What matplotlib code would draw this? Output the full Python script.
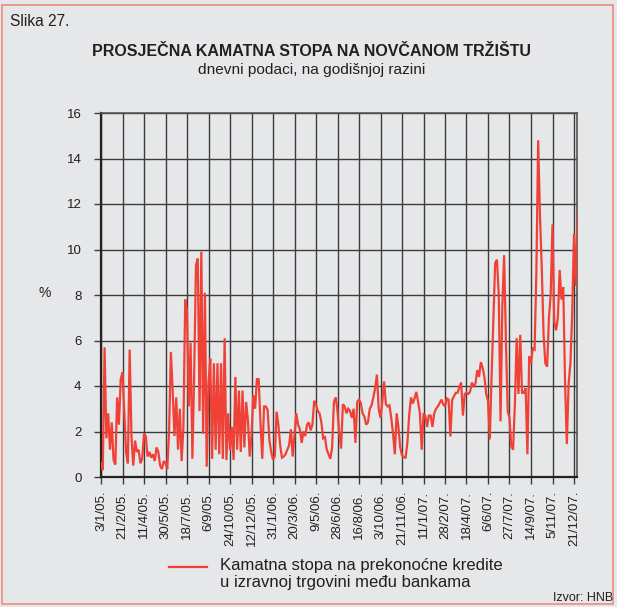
import matplotlib
matplotlib.use("Agg")
import matplotlib.pyplot as plt
from matplotlib.patches import Rectangle
from matplotlib.lines import Line2D

# ---- data (daily overnight rate, sampled; 12 samples per tick interval) ----
tick_labels = ["3/1/05.", "21/2/05.", "11/4/05.", "30/5/05.", "18/7/05.", "6/9/05.",
               "24/10/05.", "12/12/05.", "31/1/06.", "20/3/06.", "9/5/06.", "28/6/06.",
               "16/8/06.", "3/10/06.", "21/11/06.", "11/1/07.", "28/2/07.", "18/4/07.",
               "6/6/07.", "27/7/07.", "14/9/07.", "5/11/07.", "21/12/07."]
samples_per_tick = 12

overnight_rate = [
    0.6, 0.3, 5.7, 1.7, 2.8, 1.2, 2.4, 0.75, 0.55, 3.5, 2.3, 4.3,
    4.6, 2.8, 1.1, 0.6, 5.6, 1.8, 0.5, 1.6, 1.1, 1.2, 0.6, 0.8,
    1.9, 1.8, 0.9, 1.1, 0.85, 1.0, 0.7, 1.3, 1.1, 0.5, 0.35, 0.7,
    0.6, 0.35, 2.0, 5.5, 3.8, 1.8, 3.5, 1.2, 3.0, 0.7, 2.2, 7.8,
    7.3, 3.1, 5.9, 0.8, 4.5, 9.3, 9.6, 2.9, 9.9, 1.9, 8.1, 0.45,
    4.2, 5.2, 0.8, 5.0, 1.2, 5.0, 1.0, 5.0, 0.8, 6.1, 0.75, 2.8,
    1.2, 2.2, 0.75, 4.4, 1.2, 3.8, 1.1, 3.8, 1.3, 3.3, 2.5, 0.9,
    1.8, 3.6, 3.0, 4.3, 4.3, 2.4, 0.8, 3.1, 3.1, 2.95, 1.6, 1.1,
    0.76, 0.9, 2.87, 2.3, 1.4, 0.85, 0.9, 1.0, 1.2, 1.4, 2.1, 0.9,
    1.85, 2.8, 2.3, 2.1, 1.5, 2.0, 1.8, 2.3, 2.4, 2.05, 2.3, 3.35,
    3.2, 2.9, 2.8, 2.4, 1.7, 1.75, 1.2, 1.0, 0.8, 1.3, 3.3, 3.5,
    2.9, 1.9, 1.25, 3.2, 3.1, 2.8, 3.0, 2.9, 2.6, 3.0, 1.5, 3.3,
    3.4, 3.25, 2.8, 2.65, 2.3, 2.4, 3.0, 3.15, 3.5, 3.9, 4.5, 3.0,
    2.6, 3.3, 4.2, 3.2, 3.1, 3.15, 2.6, 1.9, 1.0, 2.8, 2.2, 1.3,
    0.95, 0.88, 0.85, 1.5, 2.7, 3.5, 3.23, 3.45, 3.74, 3.3, 2.8, 1.2,
    2.75, 2.7, 2.2, 2.7, 2.7, 2.2, 2.8, 3.0, 3.1, 3.25, 3.4, 3.2,
    3.1, 3.45, 3.4, 1.78, 3.4, 3.55, 3.7, 3.7, 3.95, 4.15, 2.7, 3.65,
    3.7, 3.65, 3.75, 4.15, 4.0, 4.1, 4.7, 4.4, 5.05, 4.8, 4.4, 3.65,
    3.35, 1.65, 4.45, 6.9, 9.4, 9.55, 8.0, 2.45, 7.5, 9.75, 6.0, 2.9,
    2.6, 1.35, 1.2, 3.2, 6.1, 3.65, 6.25, 3.7, 3.7, 3.9, 1.0, 5.3,
    5.0, 5.65, 5.6, 9.0, 14.8, 11.5, 9.2, 6.3, 5.0, 4.85, 6.95, 8.05,
    11.1, 6.8, 6.45, 7.0, 9.1, 7.8, 8.35, 4.2, 1.45, 4.1, 5.0, 7.2,
    10.7, 8.4, 11.7,
]

y_ticks = [0, 2, 4, 6, 8, 10, 12, 14, 16]

title = "PROSJEČNA KAMATNA STOPA NA NOVČANOM TRŽIŠTU"
subtitle = "dnevni podaci, na godišnjoj razini"
legend_label = "Kamatna stopa na prekonoćne kredite\nu izravnoj trgovini među bankama"

# ---- style ----
BG = "#e6e7e9"
RED = "#ef4136"
GRID = "#3c3c3c"
TXT = "#231f20"
plt.rcParams["font.family"] = ["Liberation Sans", "DejaVu Sans"]

W, H = 617, 607
fig = plt.figure(figsize=(W / 100, H / 100), dpi=100, facecolor=BG)

def fx(px):
    return px / W

def fy(py):
    return 1 - py / H

left, right, top, bottom = 101, 577, 113, 477
ax = fig.add_axes([fx(left), fy(bottom), fx(right) - fx(left), fy(top) - fy(bottom)])
ax.set_facecolor(BG)

x = list(range(len(overnight_rate)))
ax.plot(x, overnight_rate, color=RED, lw=1.6, solid_joinstyle="miter", zorder=3)

xt = [i * samples_per_tick for i in range(len(tick_labels))]
ax.set_xticks(xt)
ax.set_xticklabels(tick_labels, rotation=90, fontsize=9.5, color=TXT)
ax.set_xlim(0, (right - left) / (21.5 / samples_per_tick))
ax.set_yticks(y_ticks)
ax.set_yticklabels([str(v) for v in y_ticks], fontsize=9.5, color=TXT)
ax.set_ylim(0, 16)

ax.grid(True, color=GRID, lw=1.0, zorder=1)
ax.set_axisbelow(True)
ax.tick_params(axis="both", direction="out", length=5, width=1.0, color=GRID)
ax.tick_params(axis="x", pad=5)
ax.tick_params(axis="y", pad=9)
for s in ["left", "bottom"]:
    ax.spines[s].set_color("#222222")
    ax.spines[s].set_linewidth(1.6)
for s in ["top", "right"]:
    ax.spines[s].set_color("#555555")
    ax.spines[s].set_linewidth(1.2)

ax.set_ylabel("%", rotation=0, fontsize=10, color=TXT, labelpad=0)
ax.yaxis.set_label_coords((45 - left) / (right - left), (bottom - 300) / (bottom - top))

# titles
fig.text(fx(10), fy(22), "Slika 27.", fontsize=11.2, color=TXT, ha="left", va="center")
fig.text(fx(312), fy(52), title, fontsize=11.5, fontweight="bold", color=TXT, ha="center", va="center")
fig.text(fx(312), fy(70), subtitle, fontsize=11.1, color=TXT, ha="center", va="center")

# legend
fig.add_artist(Line2D([fx(169), fx(207)], [fy(567), fy(567)], color=RED, lw=1.6))
fig.text(fx(220), fy(558), legend_label, fontsize=12, color=TXT, ha="left", va="top",
         linespacing=1.15)

fig.text(fx(613), fy(598), "Izvor: HNB", fontsize=9, color=TXT, ha="right", va="center")

# border
fig.add_artist(Rectangle((fx(2), fy(604)), fx(613) - fx(2), fy(5) - fy(604),
                         transform=fig.transFigure, fill=False, ec="#f08a80", lw=1.2))

fig.savefig("out.png", dpi=100, facecolor=BG)
